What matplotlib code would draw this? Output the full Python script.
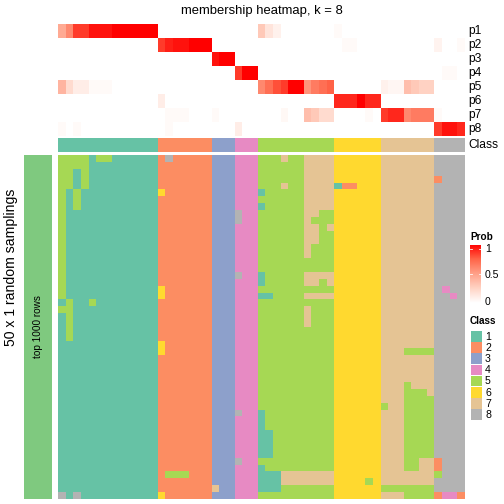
import matplotlib
matplotlib.use("Agg")
import numpy as np
import matplotlib.pyplot as plt
from matplotlib.colors import ListedColormap, LinearSegmentedColormap

plt.rcParams["font.family"] = ["Liberation Sans", "DejaVu Sans"]

# class of each column (53 samples), grouped 1..8
class_row = [1] * 13 + [2] * 7 + [3] * 3 + [4] * 3 + [5] * 10 + [6] * 6 + [7] * 7 + [8] * 4

# membership probabilities p1..p8 (segments: cls1 | cls2 | cls3 | cls4 | cls5 | cls6 | cls7 | cls8)
p1 = [.45, .6, .85, .85, .95, .95, .95, 1, 1, 1, 1, 1, 1, 0, 0, 0, 0, 0, 0, 0, 0, 0, 0, 0, 0, 0,
      .3, .15, .08, 0, 0, 0, 0, 0, 0, 0, .03, 0, 0, 0, 0, 0, 0, 0, 0, 0, 0, 0, 0, 0, 0, 0, 0]
p2 = [0, 0, 0, 0, 0, 0, 0, 0, 0, 0, 0, 0, 0, .85, .92, .95, .95, 1, 1, 1, 0, 0, 0, 0, 0, 0,
      0, 0, 0, 0, 0, 0, 0, 0, 0, 0, 0, .03, .03, 0, 0, 0, 0, 0, 0, 0, 0, 0, 0, .07, 0, 0, .03]
p3 = [0, 0, 0, 0, 0, 0, 0, 0, 0, 0, 0, 0, 0, 0, 0, 0, 0, 0, 0, 0, .95, 1, 1, 0, 0, 0,
      0, 0, 0, 0, 0, 0, 0, 0, 0, 0, 0, 0, 0, 0, 0, 0, 0, 0, 0, 0, 0, 0, 0, 0, 0, 0, 0]
p4 = [0, 0, 0, 0, 0, 0, 0, 0, 0, 0, 0, 0, 0, 0, 0, 0, 0, 0, 0, 0, 0, 0, 0, .85, 1, 1,
      0, 0, 0, 0, 0, 0, 0, 0, 0, 0, 0, 0, 0, 0, 0, 0, 0, 0, 0, 0, 0, 0, 0, 0, .03, .03, 0]
p5 = [.4, .2, .1, .1, .03, .03, .03, 0, 0, 0, 0, 0, 0, 0, 0, 0, 0, 0, 0, 0, 0, 0, 0, 0, 0, 0,
      .6, .7, .8, .85, 1, 1, .55, .65, .7, .75, 0, 0, 0, 0, 0, 0, .08, .05, .05, .35, .3, .25, .25, 0, 0, 0, 0]
p6 = [0, 0, 0, 0, 0, 0, 0, 0, 0, 0, 0, 0, 0, .1, 0, 0, 0, 0, 0, 0, 0, 0, 0, 0, 0, 0,
      0, 0, 0, 0, 0, 0, 0, 0, 0, 0, .9, .9, .9, 1, .9, .9, 0, 0, 0, 0, 0, 0, 0, 0, 0, 0, 0]
p7 = [0, 0, 0, 0, 0, 0, 0, 0, 0, 0, 0, 0, 0, 0, .03, .03, .03, 0, 0, 0, .03, 0, 0, 0, 0, 0,
      0, 0, 0, .04, 0, 0, .35, .3, .2, .2, 0, 0, 0, 0, .03, 0, .85, .9, .9, .6, .65, .65, .65, .03, 0, 0, 0]
p8 = [.03, 0, .03, 0, 0, 0, 0, 0, 0, 0, 0, 0, 0, 0, .03, 0, 0, 0, 0, 0, 0, 0, 0, .1, 0, 0,
      0, 0, 0, 0, 0, 0, 0, 0, 0, 0, 0, 0, 0, 0, 0, 0, 0, 0, 0, 0, 0, 0, 0, .85, .95, .95, .9]
prob_labels = ["p1", "p2", "p3", "p4", "p5", "p6", "p7", "p8"]

# class assigned in each of the 50 random samplings (rows) for each sample (columns)
samplings = [
    "5555155111111 2822222 333 444 5557557777 666666 7777777 8888",
    "5555111111111 2222222 333 444 5555557777 666666 7777777 8888",
    "5515111111111 2222222 333 444 5555557777 666666 7777777 8888",
    "5515111111111 2222222 333 444 5555557777 666666 7777777 2888",
    "5515111111111 2222222 333 444 5557557777 122666 7777777 8888",
    "5151111111111 6222222 333 444 1555557777 666666 7777777 8888",
    "5151111111111 2222222 333 444 5555557777 666666 7777777 8888",
    "5151111111111 2222222 333 444 1555557777 666666 7777777 8888",
    "5111111111111 2222222 333 844 5555557755 666666 7777777 8888",
    "5111111111111 2222222 333 844 5555557555 666666 7777777 8888",
    "5111111111111 2222222 333 444 5555557757 666666 7777777 8888",
    "5111111111111 2222222 333 444 5555557755 666666 7777777 8888",
    "5111111111111 2222222 333 444 5555557755 666666 7777777 8888",
    "5111111111111 2222222 333 444 5555557555 666666 7777777 8888",
    "5111111111111 2222222 333 444 5555557555 666666 7777777 8888",
    "5111111111111 2222222 333 444 5555555555 666666 7777777 8888",
    "5111111111111 2222222 333 444 5555555555 666666 7777777 8888",
    "5111111111111 2222222 333 844 1555557777 666666 7777777 8888",
    "5111111111111 2222222 333 444 1555557757 666666 7777777 8888",
    "5111111111111 6222222 333 444 5555555555 666666 7777777 8488",
    "5111111111111 6222222 333 444 1155557777 666666 7777777 8848",
    "1511511111111 2222222 333 444 5555555555 666666 7777777 8888",
    "5511111111111 2222222 333 444 5555557555 666666 7777777 8888",
    "1511111111111 2222222 333 444 5555557555 666666 7777777 8888",
    "1511111111111 2222222 333 444 5555557555 666666 7777777 8888",
    "1511111111111 2222222 333 444 5555555555 666666 7777777 8888",
    "1511111111111 2222222 333 444 5555555555 666666 7777777 8888",
    "1111111111111 6222222 333 444 5555555555 666666 7777777 8888",
    "1111111111111 6222222 333 444 5555555555 666666 7775555 8888",
    "1111111111111 2222222 333 444 5555555555 666666 7777777 8888",
    "1111111111111 2222222 333 444 5555555555 666666 7777777 8888",
    "1111111111111 2222222 333 444 5555555555 666666 7777777 8888",
    "1111111111111 2222222 333 444 5555555555 666666 7777777 8888",
    "1111111111111 2222222 333 444 5555555555 666666 7775777 8888",
    "1111111111111 2222222 333 444 5555555555 666666 7775557 8888",
    "1111111111111 2222222 333 444 5555555555 666666 7775555 8888",
    "1111111111111 2222222 333 444 5555555555 666666 5775555 8888",
    "1111111111111 2222222 333 844 1555555555 666666 7775555 8888",
    "1111111111111 2222222 333 444 1555555555 666666 7775555 8888",
    "1111111111111 2222222 333 444 1555555555 666666 7775555 8888",
    "1111111111111 2222222 333 444 1155555555 666666 7775555 8888",
    "1111111111111 2222222 333 444 1155555555 666666 7775555 8888",
    "1111111111111 2222222 333 444 1155555555 666666 7775555 8888",
    "1111111111111 2222222 333 444 1155555555 666666 7775555 8888",
    "1111111111111 2222222 333 844 5555555555 666666 7775577 2888",
    "1111111111111 2222222 333 444 1555555555 666666 7775577 2888",
    "1111111111111 2555222 333 444 1117777777 666666 7777777 5888",
    "1111111111111 2222222 333 444 1117777777 666656 7777777 8888",
    "1111111111111 2222222 733 444 1115555555 666666 5555555 8888",
    "8181111111111 6222222 333 444 5555555555 666666 7775555 2442",
]

class_colors = ["#66C2A5", "#FC8D62", "#8DA0CB", "#E78AC3",
                "#A6D854", "#FFD92F", "#E5C494", "#B3B3B3"]
class_labels = ["1", "2", "3", "4", "5", "6", "7", "8"]

W = H = 504
fig = plt.figure(figsize=(7, 7), dpi=72)


def box(x0, y0, x1, y1):
    # pixel box (top-left origin) -> axes
    ax = fig.add_axes([x0 / W, 1 - y1 / H, (x1 - x0) / W, (y1 - y0) / H])
    ax.set_xticks([])
    ax.set_yticks([])
    for s in ax.spines.values():
        s.set_visible(False)
    return ax


def txt(x, y, s, **kw):
    fig.text(x / W, 1 - y / H, s, **kw)


prob_cmap = LinearSegmentedColormap.from_list(
    "prob", [(0, "#FFFFFF"), (0.25, "#FFD3C4"), (0.5, "#FFA088"), (0.75, "#FF6448"), (1, "#FF0000")])
class_cmap = ListedColormap(class_colors)

prob = np.array([p1, p2, p3, p4, p5, p6, p7, p8])
ax = box(58, 24, 465, 136)
ax.imshow(prob, cmap=prob_cmap, vmin=0, vmax=1, aspect="auto", interpolation="nearest")

ax = box(58, 138, 465, 152)
ax.imshow(np.array([class_row]), cmap=class_cmap, vmin=0.5, vmax=8.5, aspect="auto", interpolation="nearest")

mat = np.array([[int(c) for c in r.replace(" ", "")] for r in samplings])
ax = box(58, 155, 465, 499)
ax.imshow(mat, cmap=class_cmap, vmin=0.5, vmax=8.5, aspect="auto", interpolation="nearest")

# left block
ax = box(24, 155, 52, 499)
ax.set_facecolor("#7FC97F")
ax.text(0.5, 0.5, "top 1000 rows", rotation=90, ha="center", va="center", fontsize=10, transform=ax.transAxes)
txt(11, 267, "50 x 1 random samplings", rotation=90, ha="center", va="center", fontsize=14)

# title and row labels
txt(261.5, 11, "membership heatmap, k = 8", ha="center", va="center", fontsize=13)
for i, lab in enumerate(prob_labels):
    txt(468, 24 + 14 * i + 7, lab, ha="left", va="center", fontsize=12)
txt(468, 145, "Class", ha="left", va="center", fontsize=12)

# Prob legend
txt(470, 237, "Prob", ha="left", va="center", fontsize=10, fontweight="bold")
ax = box(470, 245, 481, 303)
grad = np.linspace(1, 0, 100).reshape(-1, 1)
ax.imshow(grad, cmap=prob_cmap, vmin=0, vmax=1, aspect="auto", extent=[0, 1, 0, 1])
ax.set_xlim(0, 1)
ax.set_ylim(0, 1)
for v in [0.5, 0.93]:
    ax.plot([0, 0.2], [v, v], color="white", lw=0.8)
    ax.plot([0.8, 1], [v, v], color="white", lw=0.8)
txt(485, 249, "1", ha="left", va="center", fontsize=10.5)
txt(485, 275, "0.5", ha="left", va="center", fontsize=10.5)
txt(485, 302, "0", ha="left", va="center", fontsize=10.5)

# Class legend
txt(470, 321, "Class", ha="left", va="center", fontsize=10, fontweight="bold")
for i, (c, lab) in enumerate(zip(class_colors, class_labels)):
    y0 = 331 + 11.2 * i
    ax = box(471, y0, 482, y0 + 10.5)
    ax.set_facecolor(c)
    txt(485, y0 + 5.5, lab, ha="left", va="center", fontsize=10.5)

fig.savefig("out.png", dpi=72)
